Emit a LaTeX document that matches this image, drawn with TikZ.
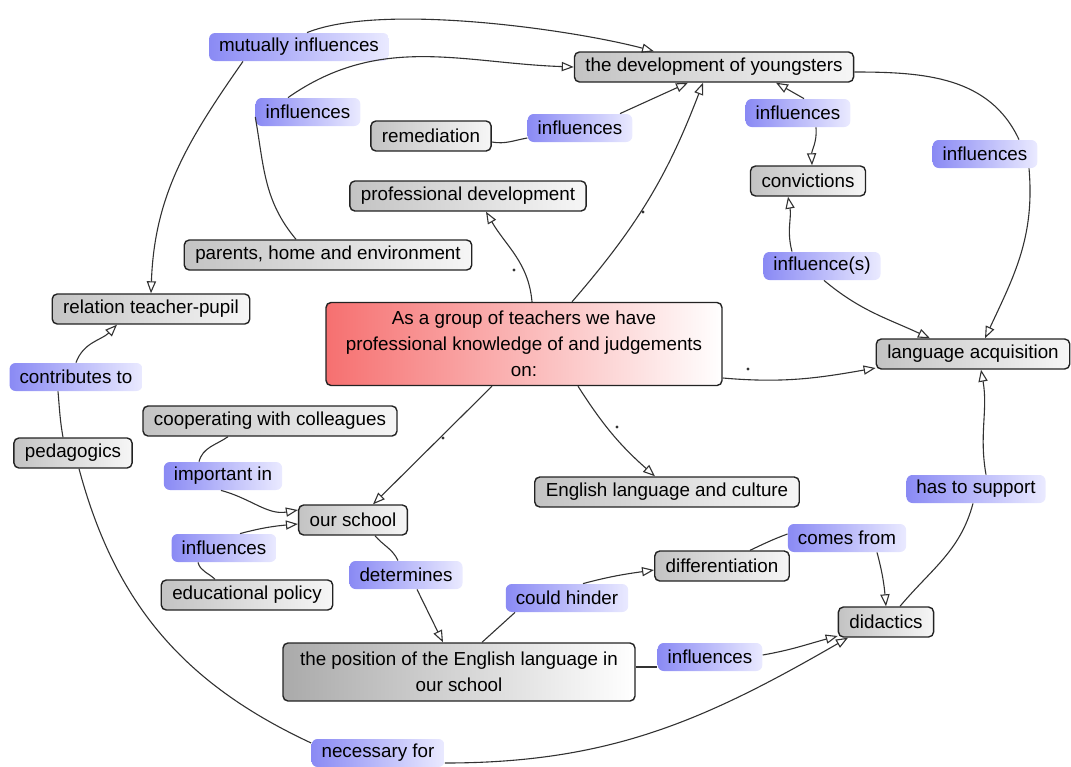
\documentclass[tikz,border=0pt]{standalone}
\usepackage{fontspec}
\setmainfont{Liberation Sans}
\usetikzlibrary{arrows.meta}

\definecolor{conceptdark}{RGB}{195,195,195}
\definecolor{conceptdeep}{RGB}{170,170,170}
\definecolor{conceptlight}{RGB}{246,246,246}
\definecolor{conceptline}{RGB}{35,35,35}
\definecolor{mainred}{RGB}{246,112,112}
\definecolor{labelblue}{RGB}{138,138,244}
\definecolor{labelpale}{RGB}{234,234,255}
\definecolor{linkgray}{RGB}{50,50,50}

\tikzset{
    concept/.style={draw=conceptline, line width=0.7pt, rounded corners=2.5pt,
        left color=conceptdark, right color=conceptlight,
        inner xsep=5.5pt, inner ysep=0pt, minimum height=15pt},
    mainconcept/.style={concept, left color=mainred, right color=white,
        align=center, minimum width=198pt, minimum height=41.5pt},
    linklabel/.style={rounded corners=3pt, left color=labelblue, right color=labelpale,
        inner xsep=5pt, inner ysep=0pt, minimum height=14pt},
    link/.style={draw=linkgray, line width=0.55pt, -{Triangle[open, length=6pt, width=4.6pt]}},
    joint/.style={draw=linkgray, line width=0.55pt},
}
\newcommand{\linkdot}[1]{\fill[linkgray] #1 circle (0.8pt);}

\begin{document}
\begin{tikzpicture}[x=0.5pt, y=-0.5pt, font=\fontsize{9.4}{13}\selectfont]
    \useasboundingbox (0,0) rectangle (1071,766);

    % Concepts
    \node[concept] (dev) at (714,67) {the development of youngsters};
    \node[concept] (remed) at (431,136) {remediation};
    \node[concept] (profdev) at (468,196) {professional development};
    \node[concept] (parents) at (328,255) {parents, home and environment};
    \node[concept] (relation) at (151,309) {relation teacher-pupil};
    \node[mainconcept] (main) at (524,344) {As a group of teachers we have\\professional knowledge of and judgements\\on:};
    \node[concept] (langacq) at (973,354) {language acquisition};
    \node[concept] (convict) at (808,181) {convictions};
    \node[concept] (coop) at (270,421) {cooperating with colleagues};
    \node[concept] (pedag) at (73,453) {pedagogics};
    \node[concept] (school) at (353,520) {our school};
    \node[concept] (english) at (667,492) {English language and culture};
    \node[concept] (edpol) at (247,595) {educational policy};
    \node[concept] (diff) at (722,566) {differentiation};
    \node[concept] (didact) at (886,622) {didactics};
    \node[concept, left color=conceptdeep, right color=white, align=center,
        minimum width=176pt, minimum height=29pt] (position) at (459,672)
        {the position of the English language in\\our school};

    % Link labels
    \node[linklabel] (lMutual) at (299,47) {mutually influences};
    \node[linklabel] (lParents) at (308,112) {influences};
    \node[linklabel] (lRemed) at (580,128) {influences};
    \node[linklabel] (lConvict) at (798,113) {influences};
    \node[linklabel] (lLang) at (985,154) {influences};
    \node[linklabel] (lInfluence) at (822,266) {influence(s)};
    \node[linklabel] (lContrib) at (76,377) {contributes to};
    \node[linklabel] (lImport) at (223,476) {important in};
    \node[linklabel] (lPolicy) at (224,548) {influences};
    \node[linklabel] (lDeterm) at (406,575) {determines};
    \node[linklabel] (lHinder) at (567,598) {could hinder};
    \node[linklabel] (lComes) at (847,538) {comes from};
    \node[linklabel] (lSupport) at (976,489) {has to support};
    \node[linklabel] (lPosition) at (710,657) {influences};
    \node[linklabel] (lNecess) at (378,753) {necessary for};

    % Around the development of youngsters
    \draw[link] ([xshift=4pt]lMutual.north) to[out=22, in=165, looseness=0.6] ([xshift=-30pt]dev.north);
    \draw[link] ([xshift=-28pt]lMutual.south) to[out=235, in=88] (relation.north);
    \draw[joint] ([xshift=-16pt]parents.north) to[out=130, in=-80] ([yshift=-2.5pt]lParents.west);
    \draw[link] ([xshift=-10pt]lParents.north) to[out=35, in=178] (dev.west);
    \draw[joint] ([yshift=-3pt]remed.east) to[out=-10, in=190] ([yshift=-5pt]lRemed.west);
    \draw[link] ([xshift=20pt]lRemed.north) -- ([xshift=-13pt]dev.south);
    \draw[link] ([xshift=3pt]lConvict.north) -- ([xshift=31pt]dev.south);
    \draw[link] ([xshift=9pt]lConvict.south) to[out=-85, in=92] ([xshift=2pt]convict.north);
    \draw[joint] ([yshift=-2.5pt]dev.east) to[out=0, in=115] ([xshift=17pt]lLang.north);
    \draw[link] ([xshift=22pt]lLang.south) to[out=-85, in=65] ([xshift=6pt]langacq.north);
    \draw[link] ([xshift=-15pt]lInfluence.north) to[out=105, in=-80] ([xshift=-10pt]convict.south);
    \draw[link] ([xshift=1pt]lInfluence.south) to[out=-40, in=155] ([xshift=-21.5pt]langacq.north);

    % From the central concept (unlabelled links carry a dot)
    \draw[link] ([xshift=24pt]main.north) to[bend right=10] ([xshift=-5.5pt]dev.south);
    \draw[link] ([xshift=4pt]main.north) to[out=95, in=-60] ([xshift=9pt]profdev.south);
    \draw[link] ([xshift=-16pt]main.south) -- ([xshift=10pt]school.north);
    \draw[link] ([xshift=27pt]main.south) to[bend right=8] ([xshift=-6pt]english.north);
    \draw[link] ([yshift=-17pt]main.east) to[out=-5, in=190] ([yshift=-7pt]langacq.west);
    \foreach \p in {(643,212), (514,270), (443,438), (617,427), (748,369)} {\linkdot{\p}}

    % Pedagogics
    \draw[joint] ([xshift=-5pt]pedag.north) to[out=100, in=-85] ([xshift=-9pt]lContrib.south);
    \draw[link] (lContrib.north) to[out=70, in=-135] ([xshift=-17pt]relation.south);
    \draw[joint] ([xshift=3pt]pedag.south) to[out=-75, in=155] ([yshift=5pt]lNecess.west);
    \draw[link] ([yshift=-5pt]lNecess.east) to[out=0, in=-150] ([xshift=-19pt]didact.south);

    % Our school
    \draw[joint] ([xshift=-21pt]coop.south) to[out=-145, in=75] ([xshift=-12pt]lImport.north);
    \draw[link] ([xshift=-1pt]lImport.south) to[out=-15, in=190] ([yshift=5pt]school.west);
    \draw[joint] ([xshift=-16pt]edpol.north) to[out=135, in=-75] ([xshift=-13pt]lPolicy.south);
    \draw[link] ([xshift=8pt]lPolicy.north) to[out=15, in=185] ([yshift=-2pt]school.west);
    \draw[joint] ([xshift=11pt]school.south) to[out=-50, in=115] ([xshift=-4pt]lDeterm.north);
    \draw[link] ([xshift=5.5pt]lDeterm.south) -- ([xshift=-8pt]position.north);

    % Position of English, didactics
    \draw[joint] ([xshift=11.5pt]position.north) -- ([xshift=-26pt]lHinder.south);
    \draw[link] ([xshift=8pt]lHinder.north) to[out=15, in=188] ([yshift=-2pt]diff.west);
    \draw[joint] ([xshift=14pt]diff.north) to[out=25, in=200] ([yshift=2pt]lComes.west);
    \draw[link] ([xshift=15pt]lComes.south) to[out=-75, in=95] (didact.north);
    \draw[joint] ([yshift=2.5pt]position.east) -- ([yshift=-5pt]lPosition.west);
    \draw[link] ([yshift=1pt]lPosition.east) to[out=10, in=195] ([yshift=-7pt]didact.west);
    \draw[joint] ([xshift=7pt]didact.north) to[out=50, in=-105] ([xshift=-1.5pt]lSupport.south);
    \draw[link] ([xshift=5pt]lSupport.north) to[out=100, in=-80] ([xshift=4pt]langacq.south);

\end{tikzpicture}
\end{document}
